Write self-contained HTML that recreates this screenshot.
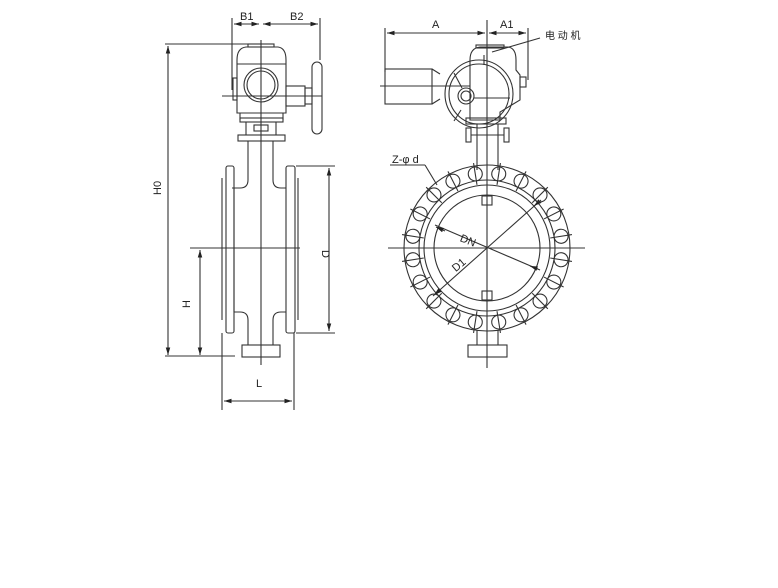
<!DOCTYPE html>
<html><head><meta charset="utf-8"><style>
html,body{margin:0;padding:0;background:#fff;}
svg{display:block}
text{font-family:"Liberation Sans","Noto Sans CJK SC",sans-serif;fill:#222;}
</style></head><body>
<svg width="778" height="588" viewBox="0 0 778 588" xmlns="http://www.w3.org/2000/svg">
<defs>
<marker id="ar" viewBox="0 0 10 10" refX="10" refY="5" markerWidth="7" markerHeight="7" orient="auto-start-reverse"><path d="M0,2 L10,5 L0,8 z" fill="#222"/></marker>
<g id="b"><circle cx="562" cy="248" r="7"/><line x1="551" y1="248" x2="573" y2="248"/></g>
</defs>
<g stroke="#333" stroke-width="1.1" fill="none">
<!-- LEFT VIEW -->
<line x1="165" y1="44" x2="250" y2="44"/>
<line x1="168" y1="46" x2="168" y2="355" marker-start="url(#ar)" marker-end="url(#ar)"/>
<line x1="165" y1="356" x2="235" y2="356"/>
<line x1="190" y1="248" x2="300" y2="248"/>
<line x1="200" y1="250" x2="200" y2="355" marker-start="url(#ar)" marker-end="url(#ar)"/>
<line x1="296" y1="166" x2="335" y2="166"/>
<line x1="296" y1="333" x2="335" y2="333"/>
<line x1="329" y1="168" x2="329" y2="331" marker-start="url(#ar)" marker-end="url(#ar)"/>
<line x1="222" y1="333" x2="222" y2="410"/>
<line x1="294" y1="333" x2="294" y2="410"/>
<line x1="224" y1="401" x2="292" y2="401" marker-start="url(#ar)" marker-end="url(#ar)"/>
<line x1="232" y1="18" x2="232" y2="90"/>
<line x1="320" y1="18" x2="320" y2="60"/>
<line x1="234" y1="24" x2="259" y2="24" marker-start="url(#ar)" marker-end="url(#ar)"/>
<line x1="263" y1="24" x2="318" y2="24" marker-start="url(#ar)" marker-end="url(#ar)"/>
<line x1="261" y1="40" x2="261" y2="365"/>
<line x1="222" y1="96" x2="322" y2="96"/>
<path d="M237,60 Q237,48 246,47 L278,47 Q286,48 286,60 L286,113 L237,113 Z"/>
<rect x="248" y="44" width="26" height="3"/>
<line x1="237" y1="64" x2="286" y2="64"/>
<circle cx="261" cy="85" r="17"/><circle cx="261" cy="85" r="14"/>
<rect x="233" y="78" width="4" height="22"/>
<rect x="286" y="86" width="19" height="20"/>
<rect x="305" y="88" width="7" height="16"/>
<rect x="312" y="62" width="10" height="72" rx="5"/>
<line x1="240" y1="113" x2="240" y2="120"/><line x1="283" y1="113" x2="283" y2="120"/>
<rect x="240" y="118" width="43" height="4"/>
<line x1="246" y1="122" x2="246" y2="135"/><line x1="276" y1="122" x2="276" y2="135"/>
<rect x="254" y="125" width="14" height="6"/>
<rect x="238" y="135" width="47" height="6"/>
<line x1="248" y1="141" x2="248" y2="180"/><line x1="273" y1="141" x2="273" y2="180"/>
<path d="M248,180 Q248,188 240,188 L232,188"/><path d="M273,180 Q273,188 281,188 L286,188"/>
<rect x="226" y="166" width="8" height="167" rx="2"/>
<rect x="286" y="166" width="9" height="167" rx="2"/>
<line x1="222" y1="178" x2="222" y2="320"/><line x1="298" y1="178" x2="298" y2="320"/>
<line x1="234" y1="188" x2="234" y2="312"/>
<path d="M248,320 Q248,312 240,312 L234,312"/><path d="M273,320 Q273,312 281,312 L286,312"/>
<line x1="248" y1="320" x2="248" y2="345"/><line x1="273" y1="320" x2="273" y2="345"/>
<rect x="242" y="345" width="38" height="12"/>
<!-- RIGHT VIEW -->
<line x1="385" y1="28" x2="385" y2="72"/>
<line x1="528" y1="28" x2="528" y2="80"/>
<line x1="387" y1="33" x2="485" y2="33" marker-start="url(#ar)" marker-end="url(#ar)"/>
<line x1="489" y1="33" x2="526" y2="33" marker-start="url(#ar)" marker-end="url(#ar)"/>
<line x1="487" y1="20" x2="487" y2="368"/>
<line x1="388" y1="248" x2="585" y2="248"/>
<line x1="380" y1="86" x2="470" y2="86"/>
<path d="M470,60 Q470,48 480,47 L508,47 Q516,48 516,60 L516,70 L520,75 L520,100 L500,112 L500,120 L470,120 Z"/>
<rect x="476" y="45" width="28" height="3"/>
<line x1="484" y1="55" x2="484" y2="65"/>
<rect x="385" y="69" width="47" height="35"/>
<line x1="432" y1="69" x2="440" y2="74"/><line x1="432" y1="104" x2="440" y2="99"/>
<circle cx="479" cy="94" r="34"/><circle cx="479" cy="94" r="30"/>
<circle cx="466" cy="96" r="8"/><circle cx="466" cy="96" r="5"/>
<line x1="454" y1="73" x2="462" y2="88"/><line x1="461" y1="110" x2="454" y2="121"/>
<line x1="474" y1="98" x2="510" y2="98"/>
<rect x="520" y="77" width="6" height="10"/>
<rect x="466" y="118" width="40" height="6"/>
<rect x="466" y="128" width="5" height="14"/><rect x="504" y="128" width="5" height="14"/>
<line x1="471" y1="135" x2="504" y2="135"/>
<line x1="477" y1="124" x2="477" y2="170"/><line x1="498" y1="124" x2="498" y2="170"/>
<circle cx="487" cy="248" r="83"/>
<circle cx="487" cy="248" r="68"/>
<circle cx="487" cy="248" r="63"/>
<circle cx="487" cy="248" r="53"/>
<rect x="482" y="196" width="10" height="9"/>
<rect x="482" y="291" width="10" height="9"/>
<line x1="477" y1="330" x2="477" y2="345"/><line x1="498" y1="330" x2="498" y2="345"/>
<rect x="468" y="345" width="39" height="12"/>
<line x1="435" y1="225" x2="540" y2="270"/>
<line x1="436" y1="227" x2="445" y2="231" marker-start="url(#ar)"/>
<line x1="538" y1="269" x2="530" y2="266" marker-end="url(#ar)"/>
<line x1="433" y1="296" x2="541" y2="200"/>
<line x1="434" y1="295" x2="440" y2="290" marker-start="url(#ar)"/>
<line x1="540" y1="201" x2="534" y2="206" marker-end="url(#ar)"/>
<line x1="390" y1="165" x2="425" y2="165"/><line x1="425" y1="165" x2="437" y2="185"/>
<line x1="492" y1="52" x2="540" y2="38"/>
<use href="#b" transform="rotate(9 487 248)"/>
<use href="#b" transform="rotate(27 487 248)"/>
<use href="#b" transform="rotate(45 487 248)"/>
<use href="#b" transform="rotate(63 487 248)"/>
<use href="#b" transform="rotate(81 487 248)"/>
<use href="#b" transform="rotate(99 487 248)"/>
<use href="#b" transform="rotate(117 487 248)"/>
<use href="#b" transform="rotate(135 487 248)"/>
<use href="#b" transform="rotate(153 487 248)"/>
<use href="#b" transform="rotate(171 487 248)"/>
<use href="#b" transform="rotate(189 487 248)"/>
<use href="#b" transform="rotate(207 487 248)"/>
<use href="#b" transform="rotate(225 487 248)"/>
<use href="#b" transform="rotate(243 487 248)"/>
<use href="#b" transform="rotate(261 487 248)"/>
<use href="#b" transform="rotate(279 487 248)"/>
<use href="#b" transform="rotate(297 487 248)"/>
<use href="#b" transform="rotate(315 487 248)"/>
<use href="#b" transform="rotate(333 487 248)"/>
<use href="#b" transform="rotate(351 487 248)"/>
</g>
<g font-size="11">
<text x="240" y="20">B1</text><text x="290" y="20">B2</text>
<text x="432" y="28">A</text><text x="500" y="28">A1</text>
<text x="545" y="39" font-size="10">电 动 机</text>
<text x="392" y="163">Z-φ d</text>
<text x="460" y="243" transform="rotate(22 465 240)">DN</text>
<text x="452" y="270" transform="rotate(-40 457 266)">D1</text>
<text x="256" y="387">L</text>
<text transform="translate(161 195) rotate(-90)">H0</text>
<text transform="translate(190 308) rotate(-90)">H</text>
<text transform="translate(322 250) rotate(90)">D</text>
</g>
</svg>
</body></html>
